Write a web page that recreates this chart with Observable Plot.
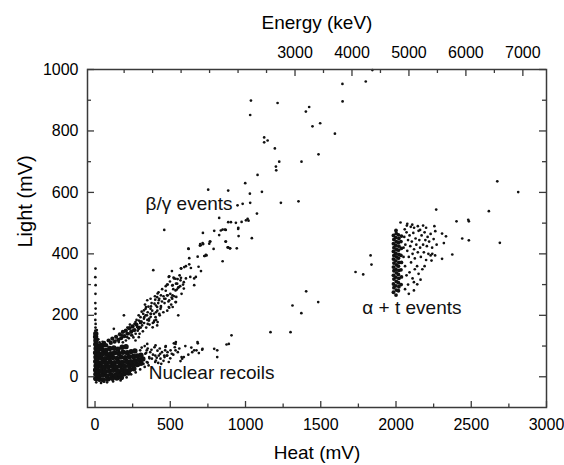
<!DOCTYPE html>
<html><head><meta charset="utf-8">
<script src="https://cdn.jsdelivr.net/npm/d3@7"></script>
<script src="https://cdn.jsdelivr.net/npm/@observablehq/plot@0.6"></script>
<style>body{margin:0;background:#fff}</style>
</head><body><div id="chart"></div>
<script>
// ---- data (heat mV, light mV) ----
const heatTicks = [0, 500, 1000, 1500, 2000, 2500, 3000];
const heatMinorTicks = [250, 750, 1250, 1750, 2250, 2750];
const lightTicks = [0, 200, 400, 600, 800, 1000];
const lightMinorTicks = [100, 300, 500, 700, 900];
const energyTicks = [3000, 4000, 5000, 6000, 7000];
const energyMinorTicks = [0, 500, 1000, 1500, 2000, 2500, 3500, 4500, 5500, 6500];

// dense nuclear-recoil / low-energy blob
const blobEvents = [
[5,-6],[6,8],[4,22],[7,36],[5,50],[6,64],[4,78],[7,92],[5,106],[6,118],[4,130],[5,140],
[30,-8],[55,-10],[85,-7],[115,-5],[145,-4],[175,-2],
[25,4],[50,6],[78,3],[105,7],[135,5],[165,8],[195,10],[222,12],
[20,18],[42,20],[68,17],[95,19],[122,21],[150,18],[178,22],[205,20],[232,24],[258,26],
[15,32],[38,34],[62,31],[88,33],[115,35],[142,32],[168,36],[196,34],[224,37],[252,38],[280,40],[305,44],
[22,46],[48,47],[74,45],[100,48],[128,46],[155,49],[182,47],[210,50],[238,49],[265,52],[292,55],[318,58],
[15,60],[40,62],[66,59],[92,61],[118,63],[145,60],[172,64],[200,62],[228,65],[255,66],[282,68],[305,70],
[25,74],[52,76],[78,73],[104,75],[130,78],[158,76],[186,80],[214,78],[240,82],[265,84],
[20,88],[45,90],[72,86],[98,92],[125,94],[152,90],[180,96],[206,98],
[12,102],[35,100],[60,104]
];
// dense foot of the beta/gamma band
const betaGammaCore = [
[40,104],[60,110],[75,102],[90,118],[105,110],[115,124],[130,114],[140,130],[155,120],[165,138],[175,126],
[185,146],[195,132],[205,150],[215,140],[228,158],[240,146],[250,164],[262,152],[275,170],[290,160],[305,178]
];
const lowEnergyEvents = [
[40,-20],[80,-18],[120,-15],[170,-12],[210,-2],[240,8],[270,14],[300,24],[330,32],[350,46],[362,60],[340,78],
[12,152],[22,122],[30,112],[50,114],[8,-18],[60,-16],
[3,352],[2,324],[4,298],[3,270],[2,240],[4,222],[3,205],[2,185],[4,172],[3,160],[2,150]
];
const nuclearRecoils = [
[344,86],[367,80],[400,69],[433,75],[466,86],[477,69],[378,59],[344,48],[311,59],[322,42],[356,37],[289,37],
[334,75],[400,48],[300,86],[267,69],[510,75],[537,113],[530,96],[482,80],[460,69],[404,53],[360,64],
[681,113],[714,91],[659,86],[575,64],[792,91],[524,109],[590,64],[579,59],[568,51],[502,86],[480,69],
[462,64],[435,59],[424,69],[440,42],[490,48],[683,109],[674,86],[646,80],[690,77],[712,88],[812,86],
[812,64],[874,105],[889,107],[907,135],[1166,145],[1299,145],[1312,232],[1371,207],[1403,278],[1483,243],
[1831,395],[1837,365],[1731,341],[1782,333],
[310,95],[330,100],[350,92],[375,88],[395,96],[415,85],[430,92],[385,72],[410,62],[420,45],[455,52],
[445,80],[470,100],[500,60],[520,72],[550,80],[560,92],[600,100],[620,72],[640,95],
[347,107],[402,102],[468,97],[535,107],[535,86]
];
const betaGammaEvents = [
[490,325],[535,319],[568,314],[590,308],[546,303],[513,297],[557,292],[535,281],[590,287],[479,300],
[347,249],[369,254],[413,259],[424,249],[479,265],[468,254],[513,254],[535,243],[490,227],[435,221],
[413,227],[369,221],[336,221],[325,216],[192,200],[302,194],[336,200],[369,205],[402,194],[358,183],
[325,189],[291,183],[269,178],[413,167],[391,178],[313,167],[280,162],[247,162],[225,156],[125,156],
[203,151],[258,151],[291,156],[225,140],[181,135],[214,129],[169,124],[136,118],[103,113],[158,113],
[247,135],[269,118],[291,129],[300,175],[320,205],[345,200],[380,215],[395,238],[420,240],[445,245],
[455,262],[470,280],[500,270],[520,285],
[185,112],[195,148],[205,118],[215,160],[225,125],[232,170],[240,135],[248,150],[255,128],[262,172],
[270,140],[276,185],[284,150],[290,200],[296,140],[304,160],[310,212],[318,148],[326,175],[332,235],
[340,160],[348,185],[355,228],[362,170],[370,195],[376,240],[384,175],[392,205],[398,262],[406,185],
[414,215],[422,275],[430,200],[438,230],[446,285],[454,210],[462,240],[470,295],[480,215],[488,245],
[498,310],[506,235],[515,265],[525,320],[540,260],[552,290],[562,330],[575,270],[585,300],
[483,300],[516,298],[538,303],[566,295],[544,284],[659,298],[416,271],[438,265],[483,265],[509,258],[526,262],
[400,251],[427,254],[460,254],[493,249],[538,243],[339,227],[372,229],[405,232],[438,227],[493,225],[516,227],
[350,210],[372,205],[405,210],[427,205],[553,200],[327,194],[360,189],[394,183],[416,178],[350,172],[383,161],
[493,327],[522,323],[549,318],[571,322],[604,320],[633,325],[659,320],[670,325],[511,344],[571,353],[604,360],
[626,366],[637,354],[688,358],[704,344],[682,391],[730,393],[741,395],[848,376],[622,416],[697,427],[719,432],
[788,416],[763,440],[825,461],[867,440],[881,421],[898,418],[942,418],[717,468],[792,475],[836,476],[869,478],
[951,481],[954,458],[1042,451],[387,347],[460,478],[593,357],[573,352],[759,433],[703,428],
[1644,953],[1799,961],[1843,998],[1036,899],[1213,891],[1031,852],[1645,896],[1423,878],[1401,863],[1445,815],
[1496,825],[1594,791],[1124,779],[1147,769],[1124,763],[1195,743],[1224,700],[1202,684],[1204,672],[1372,700],
[1485,724],[1080,657],[998,630],[752,609],[885,606],[1109,602],[1029,596],[1031,566],[981,563],[947,558],
[1235,566],[1352,571],[1076,531],[825,517],[885,503],[903,503],[936,501],[974,504],[1003,509],[1020,508],
[1014,514],[952,485],[848,479],[863,479],[699,432],[715,435],[766,440],[870,440],[885,421],[896,418],
[620,417],[626,386],[726,393],[737,397]
];
// alpha + t: dense column near 2000 mV and its fan
const alphaCore = [
[1983,275],[1986,290],[1983,302],[1986,318],[1983,330],[1986,345],[1983,357],[1986,370],[1983,383],[1986,395],
[1983,408],[1986,420],[1983,433],[1986,447],[1983,460],
[2000,266],[2002,282],[1999,296],[2002,310],[1999,324],[2002,338],[1999,350],[2002,364],[1999,377],[2002,390],
[1999,402],[2002,415],[1999,428],[2002,440],[1999,453],[2002,466],[2000,476],
[2016,280],[2019,293],[2016,306],[2019,320],[2016,333],[2019,346],[2016,360],[2019,372],[2016,386],[2019,398],
[2016,412],[2019,425],[2016,437],[2019,450],[2016,462],
[2034,300],[2036,325],[2033,348],[2036,372],[2033,395],[2036,418],[2033,440],[2036,458]
];
const alphaEvents = [
[2055,455],[2062,430],[2070,470],[2075,410],[2080,445],[2085,390],[2090,460],[2095,425],[2100,372],[2105,440],
[2110,400],[2115,468],[2120,415],[2125,385],[2130,450],[2135,430],[2140,360],[2145,405],[2150,475],[2155,445],
[2160,420],[2165,390],[2170,460],[2175,350],[2180,430],[2185,405],[2190,470],[2195,445],[2200,380],[2205,425],
[2210,455],[2215,400],[2220,440],[2230,465],[2240,420],[2250,448],[2260,395],[2270,430],[2090,340],[2110,320],
[2125,350],[2060,360],[2070,330],[2080,300],[2050,390],[2050,420],[2058,480],[2072,492],[2098,488],[2120,485],
[2145,490],[2160,478],[2180,492],[2200,485],[2119,281],[2163,316],[2141,301],[2119,308],[2150,335],[2190,360],
[2230,395],[2060,285],[2085,270],[2030,502],[2075,498],[2108,495],
[2267,544],[2617,539],[2402,506],[2480,511],[2484,506],[2440,450],[2484,444],[2690,436],[2374,398],[2306,384],
[2255,490],[2261,474],[2306,466],[2332,457],[2318,435],[2241,400],[2236,378],[2673,636],[2812,601]
];
const annotations = [
  {heat: 336, light: 564, label: "β/γ events"},
  {heat: 1776, light: 225, label: "α + t events"},
  {heat: 357, light: 12, label: "Nuclear recoils"}
];

// ---- layout ----
const W = 564, H = 465, mt = 69, mb = 58, ml = 87, mr = 18;
const FH = H - mt - mb, FW = W - ml - mr;
const ink = "#3a3a3a";
const keVToHeat = k => (k + 511) / 2.642;
const pts = a => a.map(([heat, light]) => ({heat, light}));
const fmt = d => String(d);

const chart = Plot.plot({
  width: W, height: H,
  marginTop: mt, marginBottom: mb, marginLeft: ml, marginRight: mr,
  style: {fontFamily: "'Liberation Sans', Arial, Helvetica, sans-serif", fontSize: "16px", color: "#000", background: "#fff", overflow: "visible"},
  x: {domain: [-50, 3000]},
  y: {domain: [-100, 1000]},
  marks: [
    Plot.axisX({anchor: "bottom", ticks: heatTicks, tickFormat: fmt, tickSize: 0, tickPadding: 11, label: null, fontSize: 16}),
    Plot.axisY({anchor: "left", ticks: lightTicks, tickFormat: fmt, tickSize: 0, tickPadding: 9, label: null, fontSize: 16}),
    // inward ticks
    Plot.tickX(heatTicks, {x: d => d, insetTop: FH - 6, stroke: ink, strokeWidth: 1.3}),
    Plot.tickX(heatMinorTicks, {x: d => d, insetTop: FH - 3.5, stroke: ink, strokeWidth: 1.3}),
    Plot.tickY(lightTicks, {y: d => d, insetRight: FW - 7, stroke: ink, strokeWidth: 1.3}),
    Plot.tickY(lightMinorTicks, {y: d => d, insetRight: FW - 4, stroke: ink, strokeWidth: 1.3}),
    Plot.tickY(lightTicks, {y: d => d, insetLeft: FW - 7, stroke: ink, strokeWidth: 1.3}),
    Plot.tickY(lightMinorTicks, {y: d => d, insetLeft: FW - 4, stroke: ink, strokeWidth: 1.3}),
    Plot.tickX(energyTicks, {x: keVToHeat, insetBottom: FH - 7, stroke: ink, strokeWidth: 1.3}),
    Plot.tickX(energyMinorTicks, {x: keVToHeat, insetBottom: FH - 4, stroke: ink, strokeWidth: 1.3}),
    Plot.text(energyTicks, {x: keVToHeat, text: fmt, frameAnchor: "top", lineAnchor: "bottom", dy: -12, fontSize: 16}),
    // data
    Plot.dot(pts(blobEvents), {x: "heat", y: "light", r: 2.7, fill: "#111"}),
    Plot.dot(pts(betaGammaCore), {x: "heat", y: "light", r: 2.1, fill: "#111"}),
    Plot.dot(pts(lowEnergyEvents), {x: "heat", y: "light", r: 1.35, fill: "#111"}),
    Plot.dot(pts(nuclearRecoils), {x: "heat", y: "light", r: 1.35, fill: "#111"}),
    Plot.dot(pts(betaGammaEvents), {x: "heat", y: "light", r: 1.35, fill: "#111"}),
    Plot.dot(pts(alphaCore), {x: "heat", y: "light", r: 1.9, fill: "#111"}),
    Plot.dot(pts(alphaEvents), {x: "heat", y: "light", r: 1.35, fill: "#111"}),
    // annotations
    Plot.text(annotations, {x: "heat", y: "light", text: "label", textAnchor: "start", lineAnchor: "middle", fontSize: 19, fill: "#111"}),
    // axis titles
    Plot.text(["Heat (mV)"], {frameAnchor: "bottom", lineAnchor: "middle", dy: 45, fontSize: 19}),
    Plot.text(["Energy (keV)"], {frameAnchor: "top", lineAnchor: "middle", dy: -47, fontSize: 19}),
    Plot.text(["Light (mV)"], {frameAnchor: "left", lineAnchor: "middle", rotate: -90, dx: -62, dy: 9, fontSize: 20}),
    Plot.frame({stroke: ink, strokeWidth: 1.5})
  ]
});
document.getElementById("chart").appendChild(chart);
</script>
</body></html>
